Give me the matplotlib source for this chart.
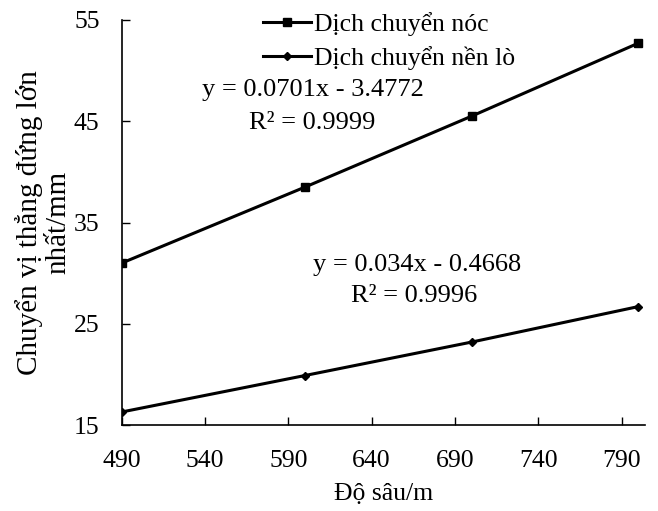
import numpy as np
import matplotlib.pyplot as plt

plt.rcParams['font.family'] = ['Liberation Serif', 'DejaVu Serif']

depth = [490, 600, 700, 800]
roof = [31.0, 38.5, 45.5, 52.7]
floor = [16.3, 19.9, 23.2, 26.7]
labels = ['Dịch chuyển nóc', 'Dịch chuyển nền lò']
xticks = [490, 540, 590, 640, 690, 740, 790]
yticks = [15, 25, 35, 45, 55]

fig = plt.figure(figsize=(6.58, 5.11), dpi=100)
ax = fig.add_axes([0.185, 0.168, 0.795, 0.793])

ax.plot(depth, roof, color='black', lw=2.2, marker='s', ms=6, label=labels[0])
ax.plot(depth, floor, color='black', lw=2.2, marker='D', ms=4.5, label=labels[1])

ax.set_xlim(490, 804)
ax.set_ylim(15, 55)
ax.set_xticks(xticks)
ax.set_yticks(yticks)
ax.tick_params(direction='in', length=6, width=1, labelsize=18.5)
ax.tick_params(axis='x', pad=18)
ax.tick_params(axis='y', pad=16)
for s in ['top', 'right']:
    ax.spines[s].set_visible(False)
for s in ['left', 'bottom']:
    ax.spines[s].set_linewidth(1.2)

ax.set_xlabel('Độ sâu/m', fontsize=18.5, labelpad=8)
ax.set_ylabel('Chuyển vị thẳng đứng lớn\nnhất/mm', fontsize=21, labelpad=2,
              linespacing=1.12)

ax.text(313 / 658, 1 - 90 / 511, 'y = 0.0701x - 3.4772', transform=fig.transFigure,
        ha='center', va='center', fontsize=19)
ax.text(312 / 658, 1 - 123 / 511, 'R² = 0.9999', transform=fig.transFigure,
        ha='center', va='center', fontsize=19)
ax.text(417 / 658, 1 - 265 / 511, 'y = 0.034x - 0.4668', transform=fig.transFigure,
        ha='center', va='center', fontsize=19)
ax.text(414 / 658, 1 - 296 / 511, 'R² = 0.9996', transform=fig.transFigure,
        ha='center', va='center', fontsize=19)

fig.legend(loc='upper left', bbox_to_anchor=(0.364, 1.022), frameon=False,
           fontsize=18.5, handlelength=1.9, handletextpad=0.1, labelspacing=0.4)

fig.savefig('out.png', dpi=100)
